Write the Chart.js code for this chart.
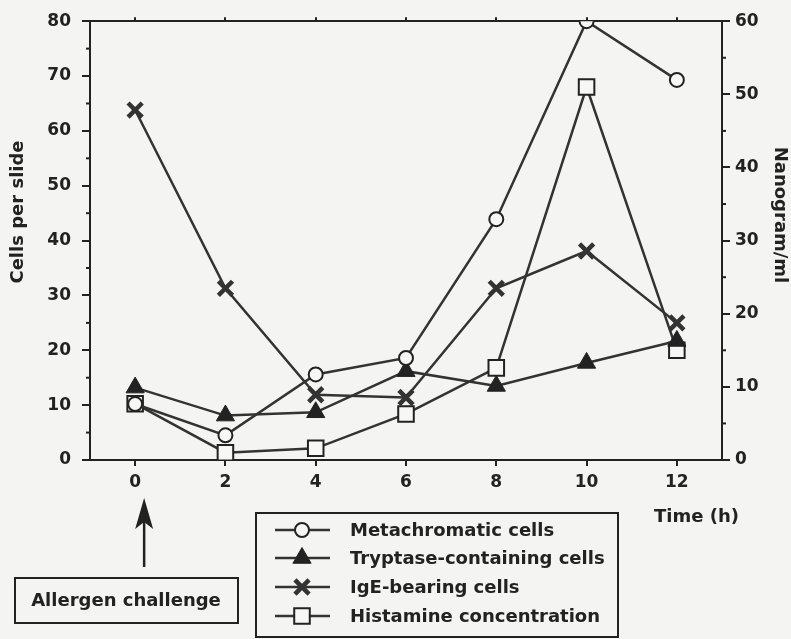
<!DOCTYPE html>
<html>
<head>
<meta charset="utf-8">
<script src="https://cdn.jsdelivr.net/npm/chart.js@4.4.0/dist/chart.umd.min.js"></script>
<style>
html,body{margin:0;padding:0;background:#f4f4f2;}
#wrap{width:791px;height:639px;}
</style>
</head>
<body>
<div id="wrap"><canvas id="chart" width="791" height="639"></canvas></div>
<script>
const hours = [0, 2, 4, 6, 8, 10, 12];
const metachromatic = [10.2, 4.5, 15.6, 18.6, 43.9, 80, 69.3];
const tryptase = [13.2, 8.1, 8.7, 16.2, 13.5, 17.7, 21.7];
const igeBearing = [63.8, 31.3, 11.9, 11.4, 31.3, 38.1, 25];
const histamine = [7.7, 1.0, 1.6, 6.3, 12.6, 51, 15];   // nanogram/ml, right axis
const xTicks = [0, 2, 4, 6, 8, 10, 12];
const seriesNames = ['Metachromatic cells', 'Tryptase-containing cells', 'IgE-bearing cells', 'Histamine concentration'];

const INK = '#222';
const FONT = 'DejaVu Sans';
const tickFont = {family: FONT, size: 17, weight: 'bold'};

function pts(vals){ return hours.map((h, i) => ({x: h, y: vals[i]})); }

function axisGrid(len){
  return {drawOnChartArea: false, drawTicks: true, tickLength: len, color: INK, lineWidth: 2};
}

// small in-between ticks on the two value axes
const minorTicks = {
  id: 'minorTicks',
  afterDatasetsDraw(c){
    const ctx = c.ctx, a = c.chartArea;
    ctx.save();
    ctx.strokeStyle = INK; ctx.lineWidth = 2;
    for (let v = 5; v < 80; v += 10){
      const y = c.scales.y.getPixelForValue(v);
      ctx.beginPath(); ctx.moveTo(a.left - 4, y); ctx.lineTo(a.left, y); ctx.stroke();
    }
    for (let v = 5; v < 60; v += 10){
      const y = c.scales.y1.getPixelForValue(v);
      ctx.beginPath(); ctx.moveTo(a.right, y); ctx.lineTo(a.right + 4, y); ctx.stroke();
    }
    ctx.restore();
  }
};

const extras = {
  id: 'extras',
  afterDraw(c){
    const ctx = c.ctx;
    ctx.save();
    ctx.fillStyle = INK; ctx.strokeStyle = INK;
    ctx.font = 'bold 18px ' + FONT;

    // axis titles
    ctx.textAlign = 'center'; ctx.textBaseline = 'middle';
    ctx.save(); ctx.translate(18, 212); ctx.rotate(-Math.PI / 2); ctx.fillText('Cells per slide', 0, 0); ctx.restore();
    ctx.save(); ctx.translate(780, 215); ctx.rotate(Math.PI / 2); ctx.fillText('Nanogram/ml', 0, 0); ctx.restore();
    ctx.textAlign = 'left';
    ctx.fillText('Time (h)', 654, 517);

    // legend box
    ctx.lineWidth = 2;
    ctx.strokeRect(256, 513, 362, 124);
    const rows = [530, 558, 587, 616];
    c.data.datasets.forEach((ds, i) => {
      const y = rows[i];
      ctx.strokeStyle = '#333'; ctx.lineWidth = 2.5;
      ctx.beginPath(); ctx.moveTo(275, y); ctx.lineTo(330, y); ctx.stroke();
      ctx.fillStyle = ds.pointBackgroundColor; ctx.strokeStyle = ds.pointBorderColor;
      ctx.lineWidth = ds.pointBorderWidth;
      Chart.helpers.drawPoint(ctx, {pointStyle: ds.pointStyle, radius: ds.pointRadius, rotation: 0, borderWidth: ds.pointBorderWidth}, 302, y);
      ctx.fillStyle = INK;
      ctx.textAlign = 'left'; ctx.textBaseline = 'middle';
      ctx.fillText(ds.label, 350, y + 1);
    });

    // allergen challenge annotation
    ctx.strokeStyle = INK; ctx.lineWidth = 2;
    ctx.strokeRect(15, 578, 223, 45);
    ctx.textAlign = 'center';
    ctx.fillText('Allergen challenge', 126, 601);
    const ax = c.scales.x.getPixelForValue(0) + 9;
    ctx.lineWidth = 2.5;
    ctx.beginPath(); ctx.moveTo(ax, 567); ctx.lineTo(ax, 520); ctx.stroke();
    ctx.beginPath();
    ctx.moveTo(ax, 498); ctx.lineTo(ax - 9, 529); ctx.lineTo(ax, 522); ctx.lineTo(ax + 9, 529);
    ctx.closePath(); ctx.fill();
    ctx.restore();
  }
};

new Chart(document.getElementById('chart'), {
  type: 'line',
  data: {
    datasets: [
      {label: seriesNames[0], data: pts(metachromatic), yAxisID: 'y',
       borderColor: '#333', borderWidth: 2.5, pointStyle: 'circle', pointRadius: 7,
       pointBackgroundColor: '#f7f7f5', pointBorderColor: INK, pointBorderWidth: 2},
      {label: seriesNames[1], data: pts(tryptase), yAxisID: 'y',
       borderColor: '#333', borderWidth: 2.5, pointStyle: 'triangle', pointRadius: 10.5,
       pointBackgroundColor: INK, pointBorderColor: INK, pointBorderWidth: 1},
      {label: seriesNames[2], data: pts(igeBearing), yAxisID: 'y',
       borderColor: '#333', borderWidth: 2.5, pointStyle: 'crossRot', pointRadius: 10,
       pointBackgroundColor: '#333', pointBorderColor: '#333', pointBorderWidth: 4.5},
      {label: seriesNames[3], data: pts(histamine), yAxisID: 'y1',
       borderColor: '#333', borderWidth: 2.5, pointStyle: 'rect', pointRadius: 11,
       pointBackgroundColor: '#f7f7f5', pointBorderColor: INK, pointBorderWidth: 2}
    ]
  },
  options: {
    responsive: false,
    devicePixelRatio: 1,
    animation: false,
    layout: {padding: 0},
    plugins: {legend: {display: false}, tooltip: {enabled: false}},
    elements: {line: {tension: 0}},
    scales: {
      x: {
        type: 'linear', position: 'bottom', min: -1, max: 13,
        afterBuildTicks: s => { s.ticks = xTicks.map(v => ({value: v})); },
        afterFit: s => { s.height = 179; },
        grid: axisGrid(6),
        border: {display: true, color: INK, width: 2},
        ticks: {font: tickFont, color: INK, padding: 6, maxRotation: 0}
      },
      x2: {
        type: 'linear', position: 'top', min: -1, max: 13,
        afterBuildTicks: s => { s.ticks = xTicks.map(v => ({value: v})); },
        afterFit: s => { s.height = 17; },
        grid: axisGrid(4),
        border: {display: true, color: INK, width: 2},
        ticks: {display: false}
      },
      y: {
        type: 'linear', position: 'left', min: 0, max: 80,
        afterFit: s => { s.width = 90; },
        grid: axisGrid(8),
        border: {display: true, color: INK, width: 2},
        ticks: {stepSize: 10, font: tickFont, color: INK, padding: 11}
      },
      y1: {
        type: 'linear', position: 'right', min: 0, max: 60,
        afterFit: s => { s.width = 69; },
        grid: axisGrid(8),
        border: {display: true, color: INK, width: 2},
        ticks: {stepSize: 10, font: tickFont, color: INK, padding: 5}
      }
    }
  },
  plugins: [minorTicks, extras]
});
</script>
</body>
</html>
